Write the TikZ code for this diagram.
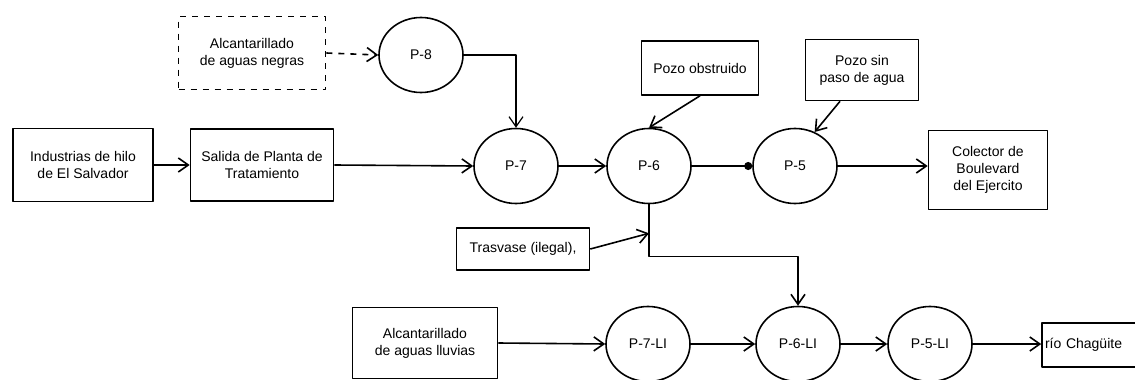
\documentclass[tikz,border=0pt]{standalone}
\usepackage{fontspec}
\setmainfont{Liberation Sans}
\usetikzlibrary{arrows.meta,shapes.geometric,calc}
\tikzset{
  pozo/.style={draw, ellipse, minimum width=42pt, minimum height=37.5pt, inner sep=0pt},
  caja/.style={draw, rectangle, align=center, inner sep=1pt},
  flujo/.style={-{Straight Barb[length=5pt,width=7pt]}},
}
\begin{document}
\begin{tikzpicture}[x=0.5pt, y=-0.5pt, line width=0.8pt, line join=round,
  font=\fontsize{7}{8.5}\selectfont]
\useasboundingbox (0,0) rectangle (1135,380);
% cajas de entrada
\node[caja, dashed, minimum width=73.5pt, minimum height=36.5pt] (negras) at (252,53) {Alcantarillado\\de aguas negras};
\node[caja, minimum width=70pt, minimum height=36.5pt] (industrias) at (83,165) {Industrias de hilo\\de El Salvador};
\node[caja, minimum width=71.5pt, minimum height=36pt] (salida) at (262,165) {Salida de Planta de\\Tratamiento};
\node[caja, minimum width=58.5pt, minimum height=27pt] (obstruido) at (700,68) {Pozo obstruido};
\node[caja, minimum width=56.5pt, minimum height=30.5pt] (sinpaso) at (862,70) {Pozo sin\\paso de agua};
\node[caja, minimum width=59.5pt, minimum height=39.5pt] (colector) at (988,170) {Colector de\\Boulevard\\del Ejercito};
\node[caja, minimum width=66.5pt, minimum height=21pt] (trasvase) at (523,249) {Trasvase (ilegal),};
\node[caja, minimum width=72.5pt, minimum height=35.5pt] (lluvias) at (425,343) {Alcantarillado\\de aguas lluvias};
\node[caja, minimum width=49pt, minimum height=22pt, text width=46pt, align=left] (rio) at (1091,345) {río Chagüite};
% pozos
\node[pozo] (P8) at (421,55) {P-8};
\node[pozo] (P7) at (516,166) {P-7};
\node[pozo] (P6) at (649,166) {P-6};
\node[pozo] (P5) at (795,166) {P-5};
\node[pozo] (P7LI) at (648,344) {P-7-LI};
\node[pozo] (P6LI) at (798,344) {P-6-LI};
\node[pozo] (P5LI) at (930,344) {P-5-LI};
% conexiones
\coordinate (tv) at ($(P6.south)+(0,29)$);
\coordinate (sp) at ($(sinpaso.south)+(-22,0)$);
\draw[flujo, dashed] (negras.east) -- (P8.west);
\draw[flujo, line width=0.6pt] (P8.east) -| (P7.north);
\draw[flujo] (industrias.east) -- (salida.west);
\draw[flujo] (salida.east) -- (P7.west);
\draw[flujo] (P7.east) -- (P6.west);
\draw[-{Circle[length=4pt]}] (P6.east) -- (P5.west);
\draw[flujo] (P5.east) -- (P5.east -| colector.west);
\draw[flujo] (obstruido.south) -- (P6.north);
\draw[flujo] (sp) -- (P5.60);
\draw[flujo] (P6.south) -- ++(0,52) -| (P6LI.north);
\draw[flujo] (trasvase.east) -- (tv);
\draw[flujo] (lluvias.east) -- (P7LI.west);
\draw[flujo] (P7LI.east) -- (P6LI.west);
\draw[flujo] (P6LI.east) -- (P5LI.west);
\draw[flujo] (P5LI.east) -- (P5LI.east -| rio.west);
\end{tikzpicture}
\end{document}
